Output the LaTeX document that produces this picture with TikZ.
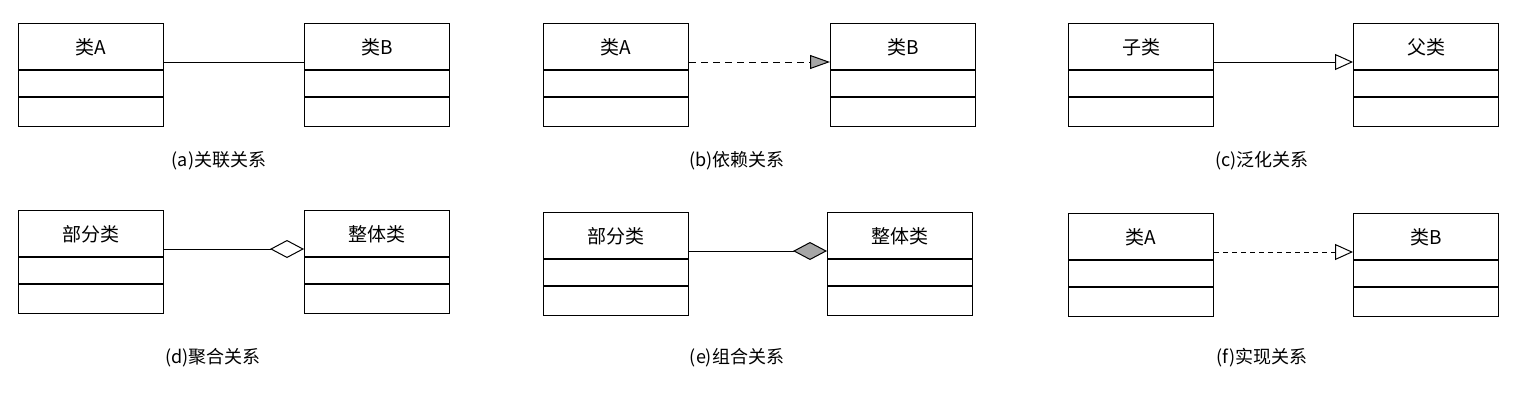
\documentclass[tikz,border=0pt]{standalone}
\usepackage{fontspec}
\newfontfamily\cjk{Noto Sans CJK SC}
\usetikzlibrary{arrows.meta,calc}
\begin{document}
\begin{tikzpicture}[x=1pt,y=-1pt,
  cls/.style={draw,line width=1.1pt,minimum width=145pt,minimum height=103pt,inner sep=0pt},
  lbl/.style={font=\cjk\fontsize{19}{22}\selectfont},
  captxt/.style={font=\cjk\fontsize{18}{22}\selectfont},
  conn/.style={line width=1pt}]
\useasboundingbox (0,0) rectangle (1534,410);
\newcommand\umlcls[4]{% name, x, y, label
  \node[cls,anchor=north west] (#1) at (#2,#3) {};
  \draw[line width=1.1pt] ($(#1.north west)+(0,47)$) -- ($(#1.north east)+(0,47)$);
  \draw[line width=1.1pt] ($(#1.north west)+(0,74)$) -- ($(#1.north east)+(0,74)$);
  \node[lbl] (#1t) at ($(#1.north)+(0,24)$) {#4};
  \coordinate (#1w) at ($(#1.north west)+(0,39)$);
  \coordinate (#1e) at ($(#1.north east)+(0,39)$);
}
\umlcls{a1}{18}{23}{类A}
\umlcls{a2}{304}{23}{类B}
\umlcls{b1}{543}{23}{类A}
\umlcls{b2}{830}{23}{类B}
\umlcls{c1}{1068}{23}{子类}
\umlcls{c2}{1353}{23}{父类}
\umlcls{d1}{18}{210}{部分类}
\umlcls{d2}{304}{210}{整体类}
\umlcls{e1}{543}{212}{部分类}
\umlcls{e2}{827}{212}{整体类}
\umlcls{f1}{1068}{213}{类A}
\umlcls{f2}{1353}{213}{类B}
\draw[conn] (a1e) -- (a2w);
\draw[conn,dashed,dash pattern=on 7pt off 5pt,-{Triangle[length=20pt,width=14pt,fill=gray!70]}] (b1e) -- (b2w);
\draw[conn,-{Triangle[open,length=18pt,width=16pt,fill=white]}] (c1e) -- (c2w);
\draw[conn,-{Diamond[open,length=34pt,width=18pt,fill=white]}] (d1e) -- (d2w);
\draw[conn,-{Diamond[length=34pt,width=18pt,fill=gray!70]}] (e1e) -- (e2w);
\draw[conn,dashed,dash pattern=on 5pt off 4pt,-{Triangle[open,length=18pt,width=16pt,fill=white]}] (f1e) -- (f2w);
\node[captxt] (ca) at (219,161) {(a)关联关系};
\node[captxt] (cb) at (737,161) {(b)依赖关系};
\node[captxt] (cc) at (1262,161) {(c)泛化关系};
\node[captxt] (cd) at (213,358) {(d)聚合关系};
\node[captxt] (ce) at (737,358) {(e)组合关系};
\node[captxt] (cf) at (1262,358) {(f)实现关系};
\end{tikzpicture}
\end{document}
